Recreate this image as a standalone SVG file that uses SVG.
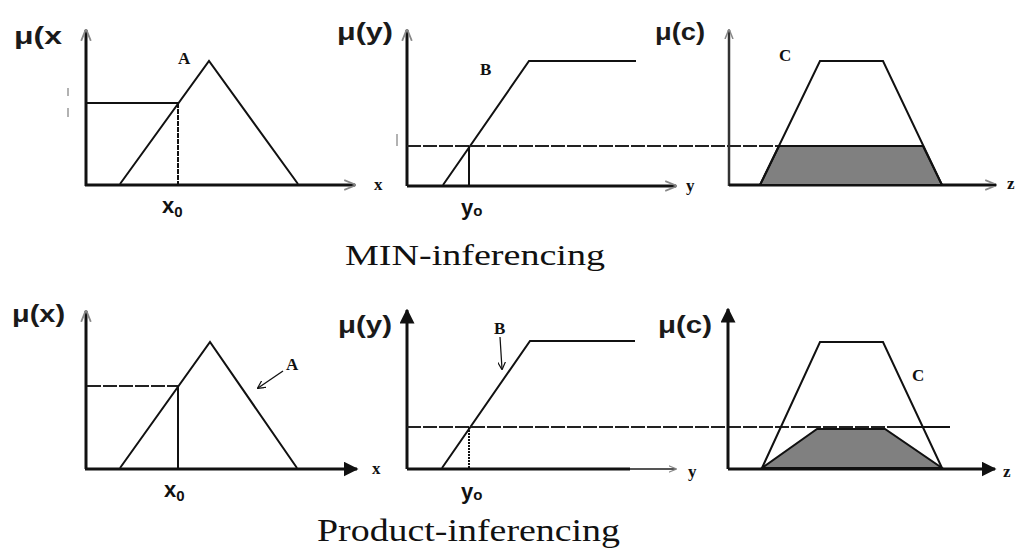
<svg xmlns="http://www.w3.org/2000/svg" width="1021" height="548" viewBox="0 0 1021 548">
<style>
.ax{stroke:#111;stroke-width:3;fill:none}
.fn{stroke:#111;stroke-width:2;fill:none}
.cut{stroke:#222;stroke-width:2;fill:none;stroke-dasharray:14 2}
.sh{fill:#808080;stroke:#111;stroke-width:2}
.mu{font-family:"Liberation Sans",Arial,sans-serif;font-size:24px;font-weight:bold;fill:#1a1a1a}
.lb{font-family:"Liberation Serif","Times New Roman",serif;font-weight:bold;font-size:17px;fill:#111}
.sub{font-family:"Liberation Sans",Arial,sans-serif;font-size:22px;font-weight:bold;fill:#111}
.cap{font-family:"Liberation Serif","Times New Roman",serif;fill:#111}
</style>
<defs>
<marker id="ah" viewBox="0 0 10 10" refX="9" refY="5" markerWidth="5" markerHeight="5" orient="auto" markerUnits="strokeWidth">
<path d="M0,0 L10,5 L0,10 z" fill="#111"/>
</marker>
<marker id="ahs" viewBox="0 0 10 10" refX="9" refY="5" markerWidth="4" markerHeight="4" orient="auto" markerUnits="strokeWidth">
<path d="M0,1 L10,5 L0,9" fill="none" stroke="#888" stroke-width="1.5"/>
</marker>
<marker id="open" viewBox="0 0 10 10" refX="9" refY="5" markerWidth="8" markerHeight="8" orient="auto" markerUnits="userSpaceOnUse">
<path d="M0,0 L10,5 L0,10" fill="none" stroke="#111" stroke-width="1.5"/>
</marker>
</defs>
<rect width="1021" height="548" fill="#fff"/>

<!-- Top row: MIN inferencing -->
<g id="top-A">
<text class="mu" x="14" y="44" textLength="48" lengthAdjust="spacingAndGlyphs">μ(x</text>
<line x1="68" y1="88" x2="68" y2="96" stroke="#999" stroke-width="1.5"/>
<line x1="68" y1="108" x2="68" y2="117" stroke="#999" stroke-width="1.5"/>
<line class="ax" x1="86" y1="186" x2="86" y2="30" marker-end="url(#ahs)"/>
<line class="ax" x1="85" y1="185" x2="355" y2="185" marker-end="url(#ahs)"/>
<polyline class="fn" points="120,184 209,61 298,184"/>
<line class="fn" x1="87" y1="103" x2="178" y2="103"/>
<line class="fn" x1="178" y1="103" x2="178" y2="184" stroke-dasharray="5 1"/>
<text class="lb" x="178" y="64">A</text>
<text class="sub" x="162" y="213">x<tspan font-size="15" dy="4">0</tspan></text>
</g>

<g id="top-B">
<text class="mu" x="337" y="40" textLength="56" lengthAdjust="spacingAndGlyphs">μ(y)</text>
<line x1="397" y1="134" x2="397" y2="146" stroke="#999" stroke-width="1.5"/>
<line class="ax" x1="407" y1="186" x2="407" y2="30" marker-end="url(#ahs)"/>
<line class="ax" x1="407" y1="186" x2="676" y2="186" marker-end="url(#ahs)"/>
<polyline class="fn" points="443,185 529,61 636,61"/>
<line class="cut" x1="407" y1="146" x2="780" y2="146"/>
<line class="fn" x1="469" y1="146" x2="469" y2="185"/>
<text class="lb" x="480" y="75">B</text>
<text class="lb" x="374" y="190">x</text>
<text class="sub" x="461" y="215">y<tspan font-size="15" dy="1">o</tspan></text>
</g>

<g id="top-C">
<text class="mu" x="655" y="40" textLength="50" lengthAdjust="spacingAndGlyphs">μ(c)</text>
<line x1="729" y1="186" x2="729" y2="30" stroke="#333" stroke-width="2.5" marker-end="url(#ahs)"/>
<line class="ax" x1="729" y1="185" x2="996" y2="185" marker-end="url(#ahs)"/>
<polygon class="sh" points="760,185 779,146 923,146 942,185"/>
<polyline class="fn" points="729,185 760,185 820,61 883,61 942,185 996,185"/>
<text class="lb" x="779" y="61">C</text>
<text class="lb" x="686" y="191">y</text>
<text class="lb" x="1007" y="189">z</text>
</g>

<text class="cap" x="345" y="265" font-size="30" textLength="260" lengthAdjust="spacingAndGlyphs">MIN-inferencing</text>

<!-- Bottom row: Product inferencing -->
<g id="bot-A">
<text class="mu" x="12" y="322" textLength="53" lengthAdjust="spacingAndGlyphs">μ(x)</text>
<line class="ax" x1="86" y1="469" x2="86" y2="311" marker-end="url(#ahs)"/>
<line class="ax" x1="85" y1="469" x2="357" y2="469" marker-end="url(#ah)"/>
<polyline class="fn" points="120,468 210,342 297,468"/>
<line class="cut" x1="87" y1="386" x2="178" y2="386"/>
<line class="fn" x1="178" y1="386" x2="178" y2="468" stroke-width="2.5"/>
<text class="lb" x="286" y="370">A</text>
<line x1="283" y1="371" x2="258" y2="388" stroke="#111" stroke-width="1.3" marker-end="url(#open)"/>
<text class="sub" x="164" y="497">x<tspan font-size="15" dy="4">0</tspan></text>
</g>

<g id="bot-B">
<text class="mu" x="338" y="333" textLength="54" lengthAdjust="spacingAndGlyphs">μ(y)</text>
<line class="ax" x1="407" y1="469" x2="407" y2="310" marker-end="url(#ah)"/>
<line class="ax" x1="407" y1="469" x2="630" y2="469"/>
<line x1="630" y1="469" x2="676" y2="469" stroke="#555" stroke-width="2" marker-end="url(#ahs)"/>
<polyline class="fn" points="442,468 530,341 635,341"/>
<line class="cut" x1="407" y1="427" x2="900" y2="427"/>
<line class="fn" x1="900" y1="427" x2="950" y2="427" stroke-width="1.5"/>
<line class="fn" x1="469" y1="427" x2="469" y2="468" stroke-dasharray="2 1"/>
<text class="lb" x="494" y="334">B</text>
<line x1="500" y1="337" x2="502" y2="369" stroke="#111" stroke-width="1.3" marker-end="url(#open)"/>
<text class="lb" x="372" y="474">x</text>
<text class="sub" x="461" y="499">y<tspan font-size="15" dy="1">o</tspan></text>
</g>

<g id="bot-C">
<text class="mu" x="658" y="333" textLength="54" lengthAdjust="spacingAndGlyphs">μ(c)</text>
<line class="ax" x1="728" y1="469" x2="728" y2="309" marker-end="url(#ah)"/>
<line class="ax" x1="728" y1="469" x2="995" y2="469" marker-end="url(#ah)"/>
<polygon class="sh" points="762,468 817,429 885,429 942,468"/>
<polyline class="fn" points="762,468 820,342 883,342 942,468"/>
<text class="lb" x="912" y="381">C</text>
<text class="lb" x="688" y="477">y</text>
<text class="lb" x="1003" y="477">z</text>
</g>

<text class="cap" x="317" y="541" font-size="32" textLength="303" lengthAdjust="spacingAndGlyphs">Product-inferencing</text>
</svg>
